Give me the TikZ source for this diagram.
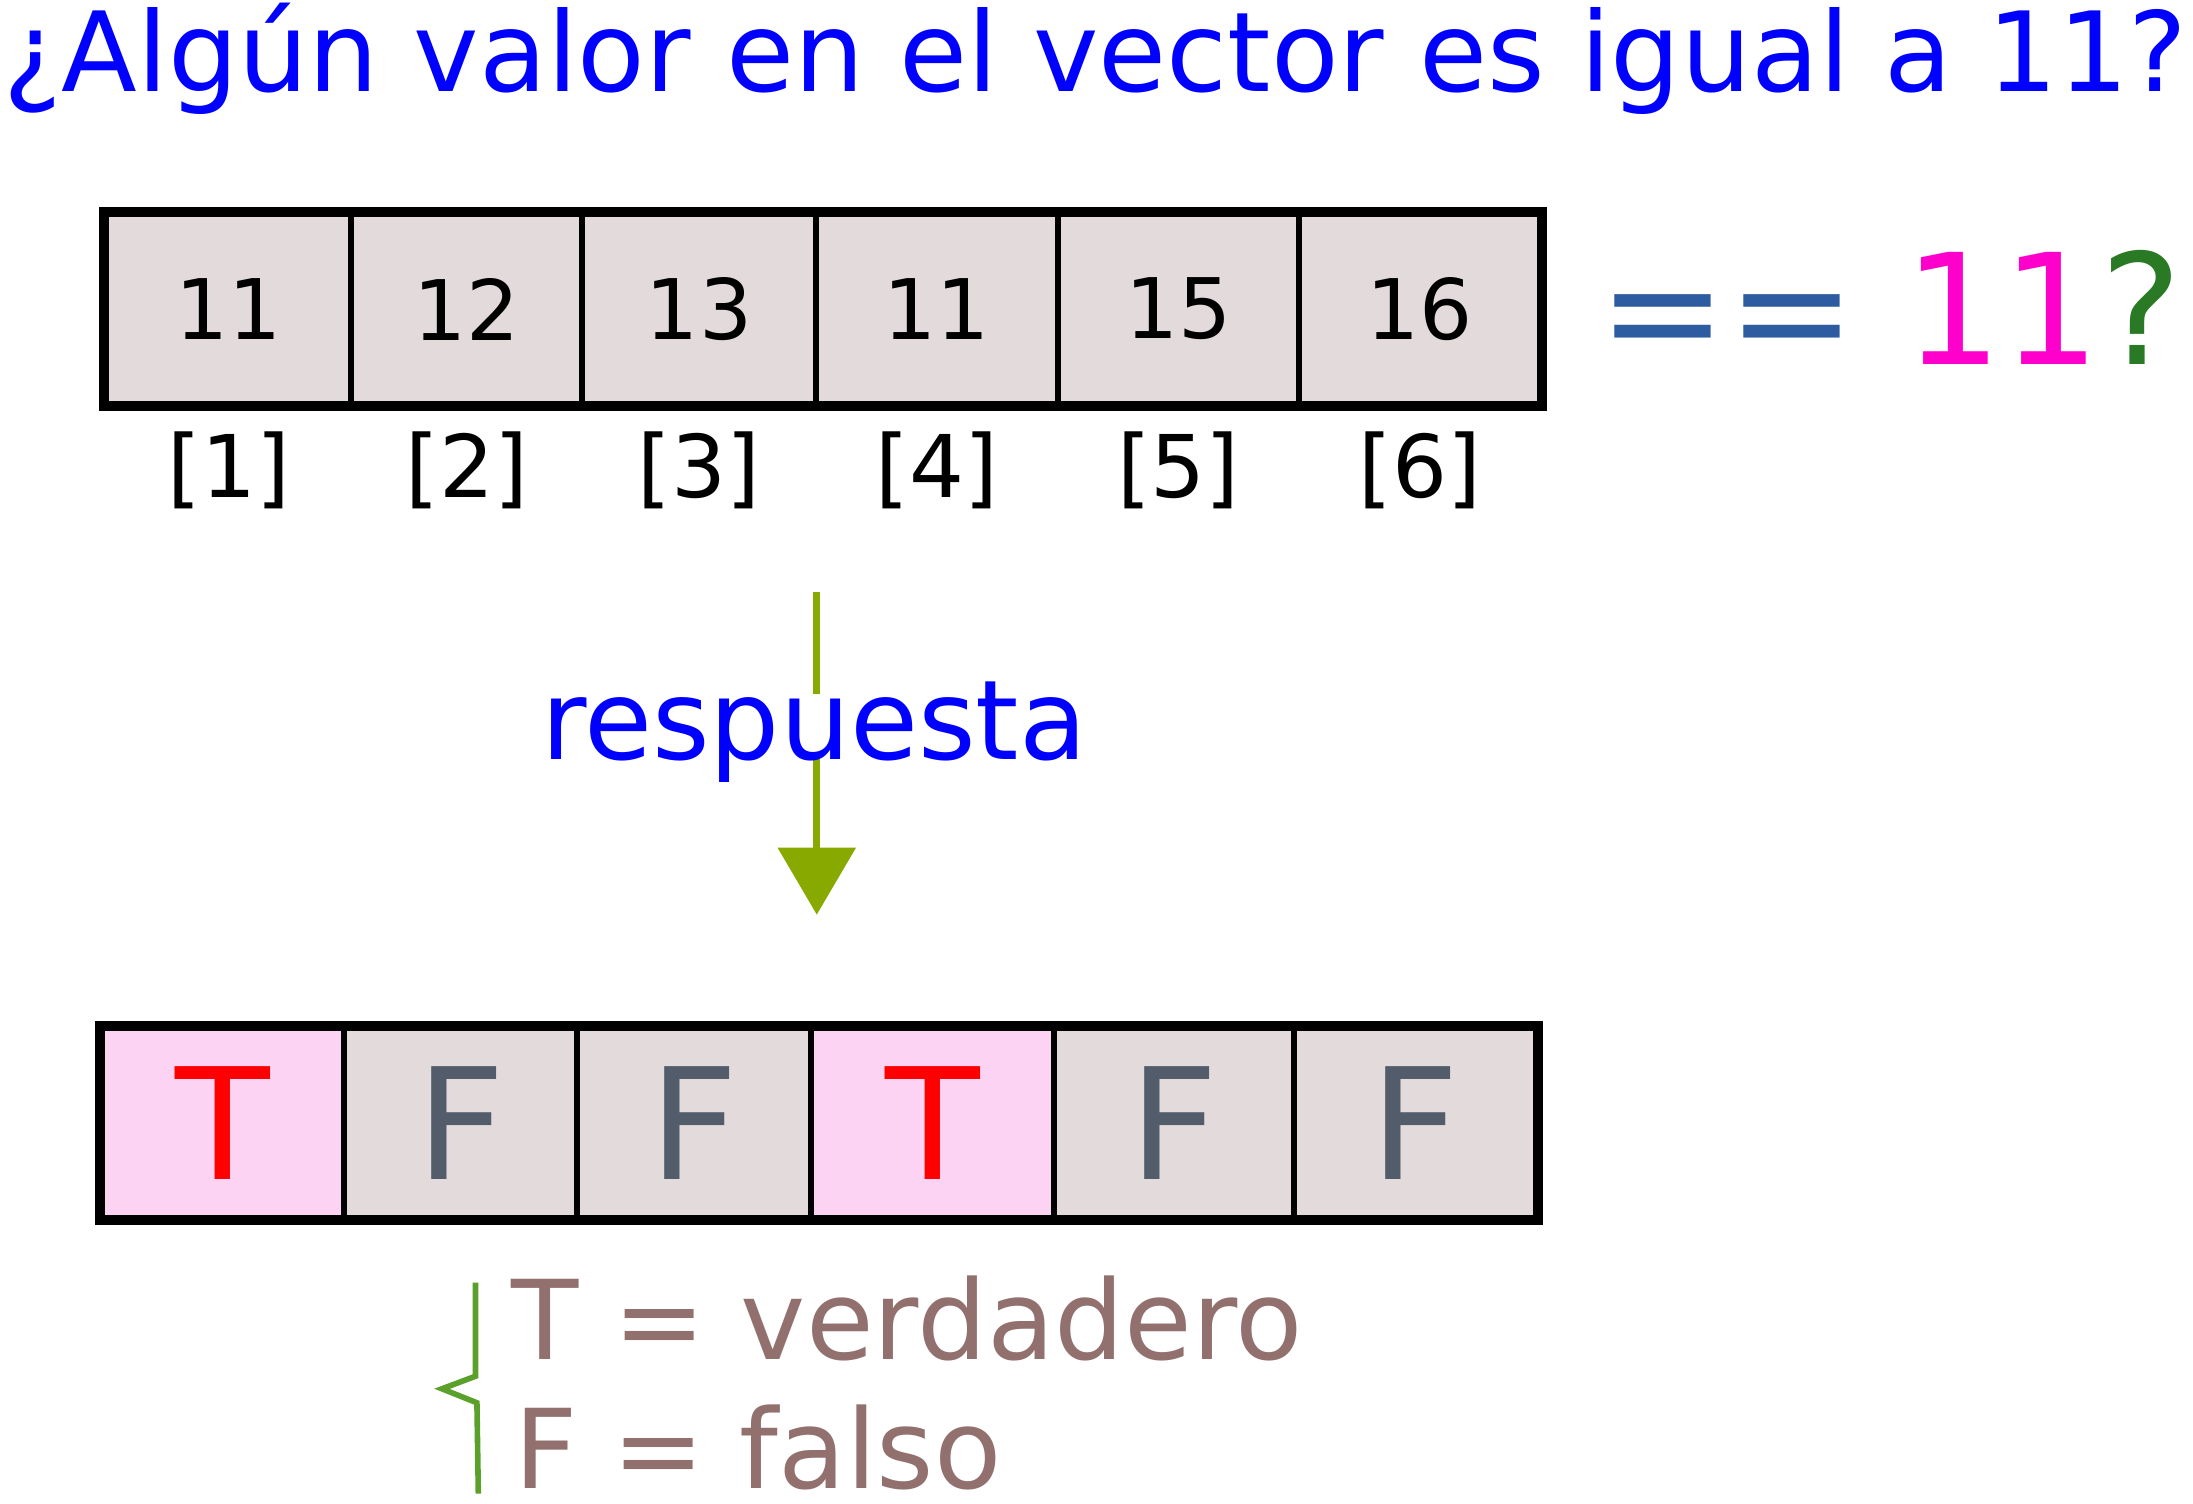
\documentclass[tikz,border=0pt]{standalone}
\usepackage{fontspec}
\setmainfont{DejaVu Sans}
\usepackage{xcolor}
\usepackage{tikz}
\usetikzlibrary{shapes,arrows,arrows.meta,positioning}
\definecolor{titleblue}{RGB}{0,0,255}
\definecolor{cellgray}{RGB}{226,218,219}
\definecolor{cellpink}{RGB}{253,211,243}
\definecolor{tred}{RGB}{255,0,0}
\definecolor{fgray}{RGB}{82,92,107}
\definecolor{eqblue}{RGB}{46,92,160}
\definecolor{numpink}{RGB}{255,0,204}
\definecolor{qgreen}{RGB}{42,122,37}
\definecolor{arrowgreen}{RGB}{136,170,0}
\definecolor{legtext}{RGB}{145,112,110}
\definecolor{bracegreen}{RGB}{90,160,42}
\tikzstyle{valcell}=[draw, line width=0.042cm, fill=cellgray, minimum height=1.36cm, inner sep=0pt, font=\fontsize{17}{20}\selectfont]
\tikzstyle{tcell}=[valcell, fill=cellpink, text=tred, font=\fontsize{31.5}{36}\selectfont]
\tikzstyle{fcell}=[valcell, text=fgray, font=\fontsize{31.5}{36}\selectfont]
\tikzstyle{outerframe}=[draw, line width=0.06cm]
\tikzstyle{idx}=[inner sep=0pt, font=\fontsize{17.6}{20}\selectfont]
\tikzstyle{legendtext}=[inner sep=0pt, anchor=base west, text=legtext, font=\fontsize{22.4}{26}\selectfont]

\begin{document}
\begin{tikzpicture}
\useasboundingbox (0,0) rectangle (15.68,-10.75);
\node[anchor=base, inner sep=0pt, text=titleblue, font=\fontsize{22.5}{26}\selectfont] (title) at (7.83,-0.655) {¿Algún valor en el vector es igual a 11?};

\node[valcell, minimum width=1.75cm] (v1) at (1.634,-2.21) {11};
\node[valcell, minimum width=1.656cm] (v2) at (3.336,-2.21) {12};
\node[valcell, minimum width=1.668cm] (v3) at (4.998,-2.21) {13};
\node[valcell, minimum width=1.73cm] (v4) at (6.697,-2.21) {11};
\node[valcell, minimum width=1.728cm] (v5) at (8.426,-2.21) {15};
\node[valcell, minimum width=1.72cm] (v6) at (10.15,-2.21) {16};
\draw[outerframe] (v1.north west) rectangle (v6.south east);

\node[idx, below=0.17cm of v1] (i1) {[1]};
\node[idx, below=0.17cm of v2] (i2) {[2]};
\node[idx, below=0.17cm of v3] (i3) {[3]};
\node[idx, below=0.17cm of v4] (i4) {[4]};
\node[idx, below=0.17cm of v5] (i5) {[5]};
\node[idx, below=0.17cm of v6] (i6) {[6]};

\node[anchor=base west, inner sep=0pt, font=\fontsize{31.3}{36}\selectfont] (cmp) at (11.42,-2.605) {\textcolor{eqblue}{==} \textcolor{numpink}{11}\textcolor{qgreen}{?}};

\coordinate (arrtop) at (5.84,-4.23);
\coordinate (arrtip) at (5.84,-6.54);
\draw[arrowgreen, line width=0.048cm, -{Triangle[width=0.55cm,length=0.48cm]}] (arrtop) -- (arrtip);
\node[anchor=base, fill=white, inner sep=0pt, text height=0.47cm, text depth=0pt, text=titleblue, font=\fontsize{22.5}{26}\selectfont] (resp) at (5.82,-5.43) {respuesta};

\node[tcell, minimum width=1.733cm] (b1) at (1.595,-8.031) {T};
\node[fcell, minimum width=1.667cm] (b2) at (3.295,-8.031) {F};
\node[fcell, minimum width=1.671cm] (b3) at (4.965,-8.031) {F};
\node[tcell, minimum width=1.733cm] (b4) at (6.667,-8.031) {T};
\node[fcell, minimum width=1.718cm] (b5) at (8.392,-8.031) {F};
\node[fcell, minimum width=1.729cm] (b6) at (10.115,-8.031) {F};
\draw[outerframe] (b1.north west) rectangle (b6.south east);

\node[legendtext] (tleg) at (3.65,-9.72) {T = verdadero};
\node[legendtext] (fleg) at (3.67,-10.64) {F = falso};
\draw[bracegreen, line width=0.04cm] (3.40,-9.17) -- (3.40,-9.84) -- (3.16,-9.93) -- (3.41,-10.03) -- (3.42,-10.68);
\end{tikzpicture}
\end{document}
